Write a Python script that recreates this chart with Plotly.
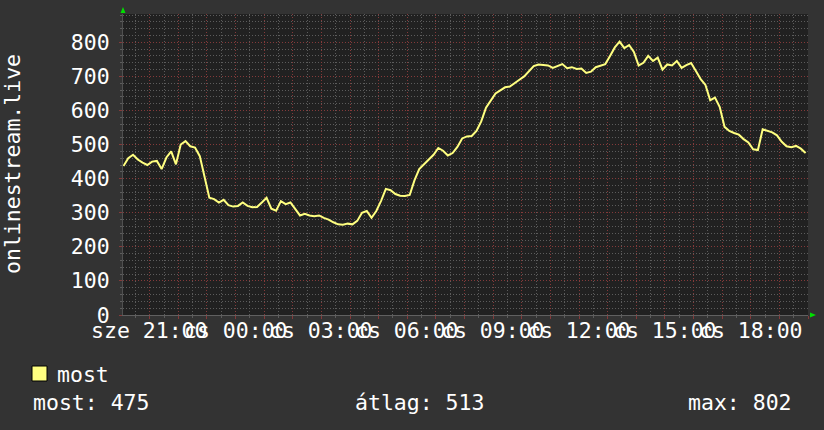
import pandas as pd
import plotly.graph_objects as go

# ---- data -------------------------------------------------------------
start_time = "2024-01-03 20:05"          # szerda (Wednesday)
step_minutes = 10
values = [
    437, 460, 470, 456, 447, 440, 450, 452, 428, 462,
    480, 442, 500, 510, 495, 491, 466, 400, 344, 340,
    330, 338, 322, 318, 320, 330, 320, 316, 317, 330,
    344, 312, 306, 334, 325, 330, 310, 292, 297, 292,
    290, 292, 285, 280, 272, 266, 265, 268, 266, 276,
    300, 305, 285, 305, 335, 370, 366, 355, 350, 349,
    352, 395, 428, 443, 456, 470, 490, 482, 468, 475,
    493, 518, 524, 525, 540, 568, 608, 630, 650, 659,
    668, 670, 681, 690, 700, 716, 730, 735, 734, 732,
    725, 730, 736, 724, 727, 722, 723, 710, 714, 727,
    731, 736, 760, 785, 802, 783, 792, 772, 732, 740,
    760, 745, 755, 720, 735, 732, 745, 725, 733, 739,
    716, 692, 675, 630, 638, 610, 552, 540, 534, 529,
    516, 506, 486, 484, 545, 541, 536, 527, 508, 495,
    492, 496, 488, 475,
]
times = pd.date_range(start_time, periods=len(values), freq=f"{step_minutes}min")

x_range = ["2024-01-03 20:04", "2024-01-04 20:00"]
y_range = [0, 883]

label_times = ["2024-01-03 21:00", "2024-01-04 00:00", "2024-01-04 03:00",
               "2024-01-04 06:00", "2024-01-04 09:00", "2024-01-04 12:00",
               "2024-01-04 15:00", "2024-01-04 18:00"]
label_texts = ["sze 21:00", "cs 00:00", "cs 03:00", "cs 06:00",
               "cs 09:00", "cs 12:00", "cs 15:00", "cs 18:00"]

series_name = "most"
axis_title = "onlinestream.live"
stat_texts = ["most: 475", "átlag: 513", "max: 802"]

# ---- styling ----------------------------------------------------------
W, H = 824, 430
L, R, T, B = 123, 16, 14, 115
PW, PH = W - L - R, H - T - B
FONT = "DejaVu Sans Mono"
FS = 21.5
TXT = "#ffffff"
PAPER = "#333333"
PLOT = "#212121"
MINOR = "#5c5c5c"
MAJOR = "#843a3a"
LINE = "#ffff80"


def px(xp):
    return (xp - L) / PW


def py(yp):
    return (H - B - yp) / PH


fig = go.Figure()
fig.add_trace(go.Scatter(
    x=times, y=values, mode="lines", line=dict(color=LINE, width=2),
    name=series_name, showlegend=False, hoverinfo="skip",
))

fig.update_layout(
    width=W, height=H,
    margin=dict(l=L, r=R, t=T, b=B, pad=0),
    paper_bgcolor=PAPER, plot_bgcolor=PLOT,
    font=dict(family=FONT, size=FS, color=TXT),
    showlegend=False,
)

fig.update_xaxes(
    type="date", range=x_range, tick0="2024-01-03 00:00", dtick=3600000,
    showticklabels=False, ticks="outside", ticklen=3, tickcolor=MAJOR,
    showgrid=True, gridcolor=MAJOR, griddash="1px,2px", gridwidth=1,
    minor=dict(dtick=1800000, showgrid=True, gridcolor=MINOR, griddash="1px,2px",
               ticks="outside", ticklen=2, tickcolor=MINOR),
    showline=True, linecolor="#606060", linewidth=1, zeroline=False,
)
fig.update_yaxes(
    range=y_range, tick0=0, dtick=100,
    tickfont=dict(family=FONT, size=FS, color=TXT),
    ticks="outside", ticklen=3, tickcolor=MAJOR, ticklabelstandoff=5,
    showgrid=True, gridcolor=MAJOR, griddash="1px,2px", gridwidth=1,
    minor=dict(dtick=20, showgrid=True, gridcolor=MINOR, griddash="1px,2px",
               ticks="outside", ticklen=2, tickcolor=MINOR),
    showline=True, linecolor="#505050", linewidth=1, zeroline=False,
)

ann = []
for t, s in zip(label_times, label_texts):
    ann.append(dict(x=t, xref="x", y=py(331), yref="paper", text=s,
                    showarrow=False, xanchor="center", yanchor="middle",
                    font=dict(family=FONT, size=FS, color=TXT)))
ann.append(dict(x=px(12), y=py(164), xref="paper", yref="paper", text=axis_title,
                textangle=-90, showarrow=False, xanchor="center", yanchor="middle",
                font=dict(family=FONT, size=FS, color=TXT)))
ann.append(dict(x=px(55), y=py(374), xref="paper", yref="paper", text=series_name,
                showarrow=False, xanchor="left", yanchor="middle",
                font=dict(family=FONT, size=FS, color=TXT)))
for xp, s, anc in zip([31, 353, 794], stat_texts, ["left", "left", "right"]):
    ann.append(dict(x=px(xp), y=py(402), xref="paper", yref="paper", text=s,
                    showarrow=False, xanchor=anc, yanchor="middle",
                    font=dict(family=FONT, size=FS, color=TXT)))
fig.update_layout(annotations=ann)

shapes = [
    dict(type="rect", xref="paper", yref="paper", x0=px(32), x1=px(47),
         y0=py(381), y1=py(366), fillcolor=LINE, line=dict(color="#000000", width=1)),
    # green axis arrows
    dict(type="path", xref="paper", yref="paper",
         path=f"M {px(120.5)} {py(13)} L {px(125.5)} {py(13)} L {px(123)} {py(7)} Z",
         fillcolor="#00e000", line=dict(color="#00e000", width=0)),
    dict(type="path", xref="paper", yref="paper",
         path=f"M {px(810)} {py(312.5)} L {px(810)} {py(317.5)} L {px(816)} {py(315)} Z",
         fillcolor="#00e000", line=dict(color="#00e000", width=0)),
]
fig.update_layout(shapes=shapes)

fig.write_html("out.html", config={"displayModeBar": False, "staticPlot": True})

# remove the browser's default page margin so the figure sits at (0, 0)
with open("out.html", "r", encoding="utf-8") as f:
    html = f.read()
html = html.replace("<head>", "<head><style>html,body{margin:0;padding:0;overflow:hidden;}</style>", 1)
with open("out.html", "w", encoding="utf-8") as f:
    f.write(html)
